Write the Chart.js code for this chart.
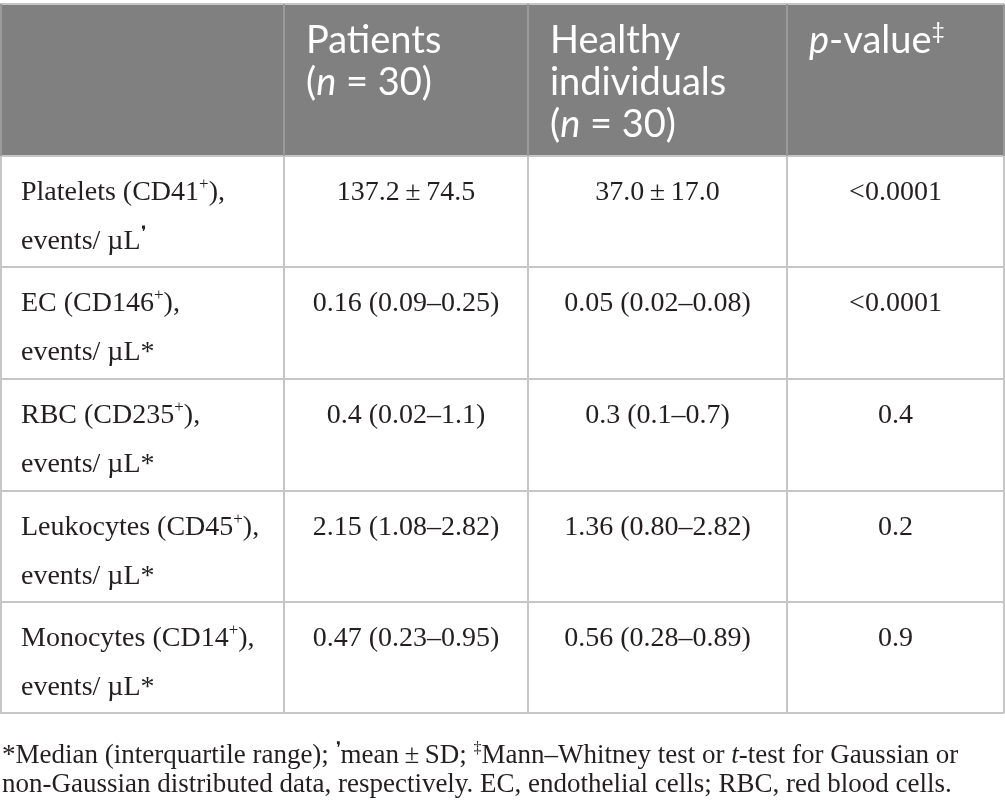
<!DOCTYPE html>
<html lang="en">
<head>
    <meta charset="UTF-8">
    <title>Microparticles table</title>
    <script src="https://cdn.jsdelivr.net/npm/chart.js"></script>
    <style>
        html, body { margin: 0; padding: 0; background: #fff; }
        #wrap { width: 1005px; height: 803px; }
    </style>
</head>
<body>
    <div id="wrap"><canvas id="tableChart" width="1005" height="803"></canvas></div>

    <script>
        // Table content (_x_ = italic, ^x^ = superscript)
        const columnHeaders = [
            [],
            ['Patients', '(_n_ = 30)'],
            ['Healthy', 'individuals', '(_n_ = 30)'],
            ['_p_-value^‡^']
        ];
        const rowLabels = [
            ['Platelets (CD41^+^),', 'events/ µL^❜^'],
            ['EC (CD146^+^),', 'events/ µL*'],
            ['RBC (CD235^+^),', 'events/ µL*'],
            ['Leukocytes (CD45^+^),', 'events/ µL*'],
            ['Monocytes (CD14^+^),', 'events/ µL*']
        ];
        const patientValues = ['137.2\u2009±\u200974.5', '0.16 (0.09–0.25)', '0.4 (0.02–1.1)', '2.15 (1.08–2.82)', '0.47 (0.23–0.95)'];
        const healthyValues = ['37.0\u2009±\u200917.0', '0.05 (0.02–0.08)', '0.3 (0.1–0.7)', '1.36 (0.80–2.82)', '0.56 (0.28–0.89)'];
        const pValues = ['<0.0001', '<0.0001', '0.4', '0.2', '0.9'];
        const footnoteLines = [
            '*Median (interquartile range); ^❜^mean\u2009±\u2009SD; ^‡^Mann–Whitney test or _t_-test for Gaussian or',
            'non-Gaussian distributed data, respectively. EC, endothelial cells; RBC, red blood cells.'
        ];

        // Layout (scale units)
        const colEdges = [0, 284, 528, 787, 1004];
        const rowEdges = [4, 156, 267, 379, 491, 602, 713];
        const pageW = 1005, pageH = 803;

        const SANS = 'Lato, "Open Sans", sans-serif';
        const SERIF = '"Liberation Serif", "DejaVu Serif", serif';

        // split marked-up text into segments
        function parseRich(str) {
            const segs = [];
            let italic = false, sup = false, buf = '';
            for (const ch of str) {
                if (ch === '_' || ch === '^') {
                    if (buf) segs.push({ t: buf, italic, sup });
                    buf = '';
                    if (ch === '_') italic = !italic; else sup = !sup;
                } else buf += ch;
            }
            if (buf) segs.push({ t: buf, italic, sup });
            return segs;
        }

        function segFont(seg, size, family) {
            const s = seg.sup ? Math.round(size * 0.6) : size;
            return (seg.italic ? 'italic ' : '') + s + 'px ' + family;
        }

        function drawRich(ctx, str, x, y, size, family, color, align) {
            const segs = parseRich(str);
            let total = 0;
            segs.forEach(seg => {
                ctx.font = segFont(seg, size, family);
                seg.w = ctx.measureText(seg.t).width;
                total += seg.w;
            });
            let cx = align === 'center' ? x - total / 2 : x;
            ctx.fillStyle = color;
            ctx.textAlign = 'left';
            ctx.textBaseline = 'alphabetic';
            segs.forEach(seg => {
                ctx.font = segFont(seg, size, family);
                ctx.fillText(seg.t, cx, seg.sup ? y - size * 0.38 : y);
                cx += seg.w;
            });
        }

        const tablePlugin = {
            id: 'tablePlugin',
            afterDraw(chart) {
                const ctx = chart.ctx;
                const xs = chart.scales.x, ys = chart.scales.y;
                const X = v => xs.getPixelForValue(v);
                const Y = v => ys.getPixelForValue(v);
                const left = X(colEdges[0]), right = X(colEdges[colEdges.length - 1]);
                ctx.save();

                // header band
                ctx.fillStyle = '#808080';
                ctx.fillRect(left, Y(rowEdges[0]), right - left, Y(rowEdges[1]) - Y(rowEdges[0]));

                // grid lines
                ctx.lineWidth = 2;
                ctx.strokeStyle = '#c6c6c6';
                rowEdges.forEach(r => {
                    ctx.beginPath();
                    ctx.moveTo(left, Y(r));
                    ctx.lineTo(right, Y(r));
                    ctx.stroke();
                });
                colEdges.forEach((c, i) => {
                    const px = i === 0 ? X(c) + 1 : X(c);
                    ctx.strokeStyle = '#9a9a9a';
                    ctx.beginPath();
                    ctx.moveTo(px, Y(rowEdges[0]));
                    ctx.lineTo(px, Y(rowEdges[1]));
                    ctx.stroke();
                    ctx.strokeStyle = '#c6c6c6';
                    ctx.beginPath();
                    ctx.moveTo(px, Y(rowEdges[1]));
                    ctx.lineTo(px, Y(rowEdges[rowEdges.length - 1]));
                    ctx.stroke();
                });

                // header text
                columnHeaders.forEach((lines, ci) => {
                    lines.forEach((line, li) => {
                        drawRich(ctx, line, X(colEdges[ci] + 22), Y(rowEdges[0] + 49 + li * 42), 38, SANS, '#ffffff', 'left');
                    });
                });

                // body text
                const bodyCols = [patientValues, healthyValues, pValues];
                rowLabels.forEach((lines, ri) => {
                    const top = rowEdges[ri + 1];
                    lines.forEach((line, li) => {
                        drawRich(ctx, line, X(colEdges[0] + 21), Y(top + 44 + li * 49), 28, SERIF, '#231f20', 'left');
                    });
                    bodyCols.forEach((col, ci) => {
                        const mid = (colEdges[ci + 1] + colEdges[ci + 2]) / 2;
                        drawRich(ctx, col[ri], X(mid), Y(top + 44), 28, SERIF, '#231f20', 'center');
                    });
                });

                // footnote
                footnoteLines.forEach((line, li) => {
                    drawRich(ctx, line, X(2), Y(763 + li * 29), 27, SERIF, '#231f20', 'left');
                });

                ctx.restore();
            }
        };

        new Chart(document.getElementById('tableChart'), {
            type: 'scatter',
            data: { datasets: [{ data: [], pointRadius: 0 }] },
            options: {
                responsive: false,
                animation: false,
                layout: { padding: 0 },
                plugins: { legend: { display: false }, tooltip: { enabled: false } },
                scales: {
                    x: { type: 'linear', min: 0, max: pageW, display: false },
                    y: { type: 'linear', min: 0, max: pageH, reverse: true, display: false }
                }
            },
            plugins: [tablePlugin]
        });
    </script>
</body>
</html>
